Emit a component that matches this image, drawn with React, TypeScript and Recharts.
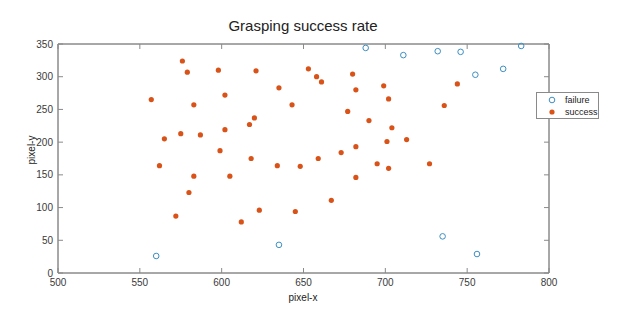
import { ScatterChart, Scatter, XAxis, YAxis, ReferenceArea } from 'recharts';

const failureX = [560, 635, 688, 711, 732, 746, 735, 755, 772, 783, 756];
const failureY = [26, 43, 344, 333, 339, 338, 56, 303, 312, 347, 29];

const successX = [
  557, 576, 579, 598, 602, 583, 565, 575, 587, 602, 599, 562, 583, 580, 572, 605, 612, 623, 645, 667,
  682, 618, 634, 648, 659, 673, 695, 702, 727, 621, 635, 643, 620, 617, 653, 658, 661, 680, 682, 677,
  690, 699, 702, 704, 713, 701, 682, 744, 736,
];
const successY = [
  265, 324, 307, 310, 272, 257, 205, 213, 211, 219, 187, 164, 148, 123, 87, 148, 78, 96, 94, 111,
  146, 175, 164, 163, 175, 184, 167, 160, 167, 309, 283, 257, 237, 227, 312, 300, 292, 304, 280, 247,
  233, 286, 266, 222, 204, 201, 193, 289, 256,
];

const xTicks = [500, 550, 600, 650, 700, 750, 800];
const yTicks = [0, 50, 100, 150, 200, 250, 300, 350];

const failure = failureX.map((x, i) => ({ x, y: failureY[i] }));
const success = successX.map((x, i) => ({ x, y: successY[i] }));

const BLUE = '#3d8fc2';
const ORANGE = '#d95319';
const AXIS = '#8a8a8a';
const FONT = 'Arial, "Liberation Sans", sans-serif';

const tickStyle = { fontSize: 10, fill: '#3a3a3a', fontFamily: FONT };

function HollowDot(props: any) {
  return <circle cx={props.cx} cy={props.cy} r={2.8} fill="none" stroke={BLUE} strokeWidth={1} />;
}

function FilledDot(props: any) {
  return <circle cx={props.cx} cy={props.cy} r={2.6} fill={ORANGE} />;
}

// mirror axes only show tick marks, no labels
function NoLabel() {
  return <g />;
}

function LegendBox() {
  const row = { display: 'flex', alignItems: 'center', height: 12 };
  return (
    <div
      style={{
        position: 'absolute',
        left: 536,
        top: 92,
        width: 61,
        height: 24,
        border: '1px solid #8a8a8a',
        background: '#fff',
        fontFamily: FONT,
        fontSize: 9,
        color: '#222',
        paddingTop: 1,
        boxSizing: 'content-box',
      }}
    >
      <div style={row}>
        <svg width={28} height={12}>
          <circle cx={15} cy={6} r={2.8} fill="none" stroke={BLUE} strokeWidth={1} />
        </svg>
        <span>failure</span>
      </div>
      <div style={row}>
        <svg width={28} height={12}>
          <circle cx={15} cy={6} r={2.6} fill={ORANGE} />
        </svg>
        <span>success</span>
      </div>
    </div>
  );
}

export default function App() {
  return (
    <div style={{ position: 'absolute', left: 0, top: 0, width: 625, height: 321, background: '#fff' }}>
      <ScatterChart width={625} height={321} margin={{ top: 40, right: 72, bottom: 0, left: 0 }}>
        <XAxis
          xAxisId="bottom"
          type="number"
          dataKey="x"
          domain={[500, 800]}
          ticks={xTicks}
          height={48}
          stroke={AXIS}
          tickSize={-5}
          tickMargin={11}
          tick={tickStyle}
        />
        <XAxis
          xAxisId="top"
          orientation="top"
          type="number"
          dataKey="x"
          domain={[500, 800]}
          ticks={xTicks}
          height={4}
          stroke={AXIS}
          tickSize={-5}
          tick={NoLabel}
        />
        <YAxis
          yAxisId="left"
          type="number"
          dataKey="y"
          domain={[0, 350]}
          ticks={yTicks}
          width={58}
          stroke={AXIS}
          tickSize={-5}
          tickMargin={10}
          tick={tickStyle}
        />
        <YAxis
          yAxisId="right"
          orientation="right"
          type="number"
          dataKey="y"
          domain={[0, 350]}
          ticks={yTicks}
          width={4}
          stroke={AXIS}
          tickSize={-5}
          tick={NoLabel}
        />
        <ReferenceArea
          xAxisId="bottom"
          yAxisId="left"
          x1={500}
          x2={800}
          y1={0}
          y2={350}
          fill="none"
          stroke={AXIS}
          strokeWidth={1}
          ifOverflow="visible"
        />
        <Scatter
          name="failure"
          data={failure}
          xAxisId="top"
          yAxisId="right"
          shape={HollowDot}
          isAnimationActive={false}
        />
        <Scatter
          name="success"
          data={success}
          xAxisId="bottom"
          yAxisId="left"
          shape={FilledDot}
          isAnimationActive={false}
        />
      </ScatterChart>
      <div
        style={{
          position: 'absolute',
          left: 0,
          width: 606,
          top: 17,
          textAlign: 'center',
          fontFamily: FONT,
          fontSize: 15,
          color: '#222',
        }}
      >
        Grasping success rate
      </div>
      <div
        style={{
          position: 'absolute',
          left: 0,
          width: 606,
          top: 292,
          textAlign: 'center',
          fontFamily: FONT,
          fontSize: 10,
          color: '#222',
        }}
      >
        pixel-x
      </div>
      <div
        style={{
          position: 'absolute',
          left: 31,
          top: 150,
          transform: 'translate(-50%, -50%) rotate(-90deg)',
          fontFamily: FONT,
          fontSize: 10,
          color: '#222',
          whiteSpace: 'nowrap',
        }}
      >
        pixel-y
      </div>
      <LegendBox />
    </div>
  );
}
